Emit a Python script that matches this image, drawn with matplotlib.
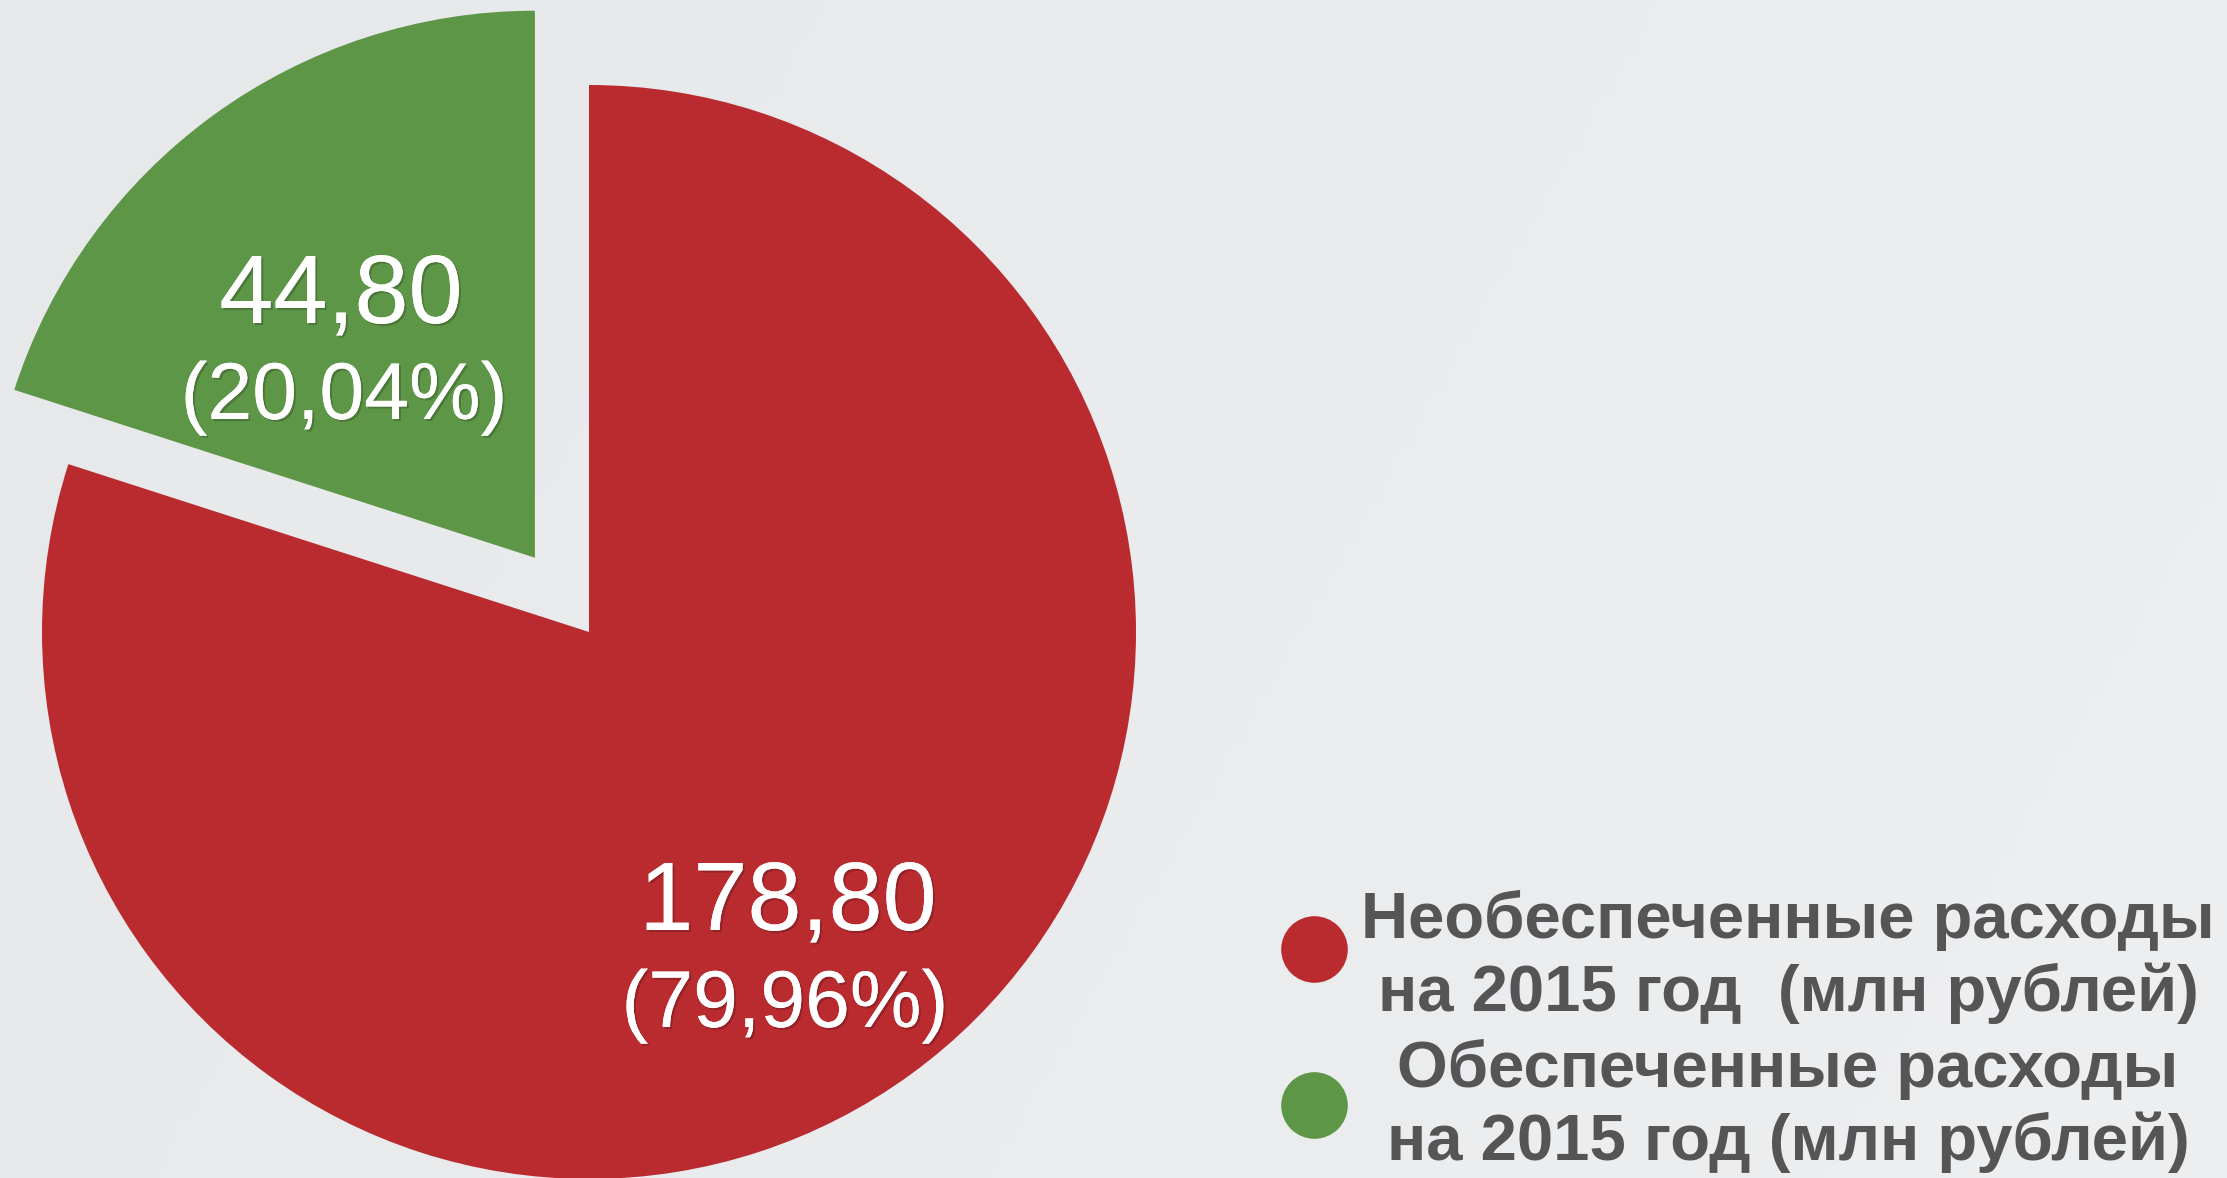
import numpy as np
import matplotlib.pyplot as plt
import matplotlib.patheffects as pe

values = [44.80, 178.80]
shares = ['(20,04%)', '(79,96%)']
amounts = ['44,80', '178,80']
colors = ['#5E9648', '#BA2B30']
legend_labels = [
    'Необеспеченные расходы\nна 2015 год  (млн рублей)',
    'Обеспеченные расходы\nна 2015 год (млн рублей)',
]
legend_colors = ['#BA2B30', '#5E9648']

W, H = 2227, 1178
fig = plt.figure(figsize=(W / 100, H / 100), dpi=100)

# background with a soft gradient
bg = fig.add_axes([0, 0, 1, 1])
gx = np.linspace(0, 1, 200)
gy = np.linspace(0, 1, 100)
grad = 0.5 * gx[None, :] + 0.15 * gy[:, None]
c0 = np.array([0.902, 0.910, 0.918])
c1 = np.array([0.933, 0.937, 0.945])
img = c0 + (c1 - c0) * grad[..., None] / grad.max()
bg.imshow(img, extent=[0, 1, 0, 1], aspect='auto')
bg.axis('off')

# pie, in units of the radius
R = 547.0
cx, cy = 589.0, 632.0
ax = fig.add_axes([0, 0, 1, 1])
ax.patch.set_alpha(0)
ax.pie(values, colors=colors, startangle=90, explode=[0.168, 0],
       wedgeprops=dict(linewidth=0))
ax.set_xlim(-cx / R, (W - cx) / R)
ax.set_ylim(-(H - cy) / R, cy / R)
ax.set_aspect('equal', adjustable='box')
ax.axis('off')

# overlay in pixel coordinates
ov = fig.add_axes([0, 0, 1, 1])
ov.patch.set_alpha(0)
ov.set_xlim(0, W)
ov.set_ylim(H, 0)
ov.axis('off')

shadow = [pe.withSimplePatchShadow(offset=(1.5, -1.5), shadow_rgbFace='black', alpha=0.2),
          pe.Normal()]
font = ['Liberation Sans', 'DejaVu Sans']

label_pos = [((341, 298), (344, 398)), ((788, 905), (785, 1006))]
for amt, sh, (p1, p2) in zip(amounts, shares, label_pos):
    ov.text(p1[0], p1[1], amt, color='white', fontsize=70, family=font,
            ha='center', va='center', path_effects=shadow)
    ov.text(p2[0], p2[1], sh, color='white', fontsize=58, family=font,
            ha='center', va='center', path_effects=shadow)

legend_y = [957, 1106]
marker_y = [949, 1105]
for lab, col, y, my in zip(legend_labels, legend_colors, legend_y, marker_y):
    ov.scatter([1314], [my], s=2300, color=col, linewidths=0, zorder=3)
    ov.text(1788, y, lab, color='#555555', fontsize=47, fontweight='bold',
            family=['Liberation Sans Narrow', 'Liberation Sans'],
            ha='center', va='center', multialignment='center', linespacing=1.23)

fig.savefig('out.png', dpi=100)
